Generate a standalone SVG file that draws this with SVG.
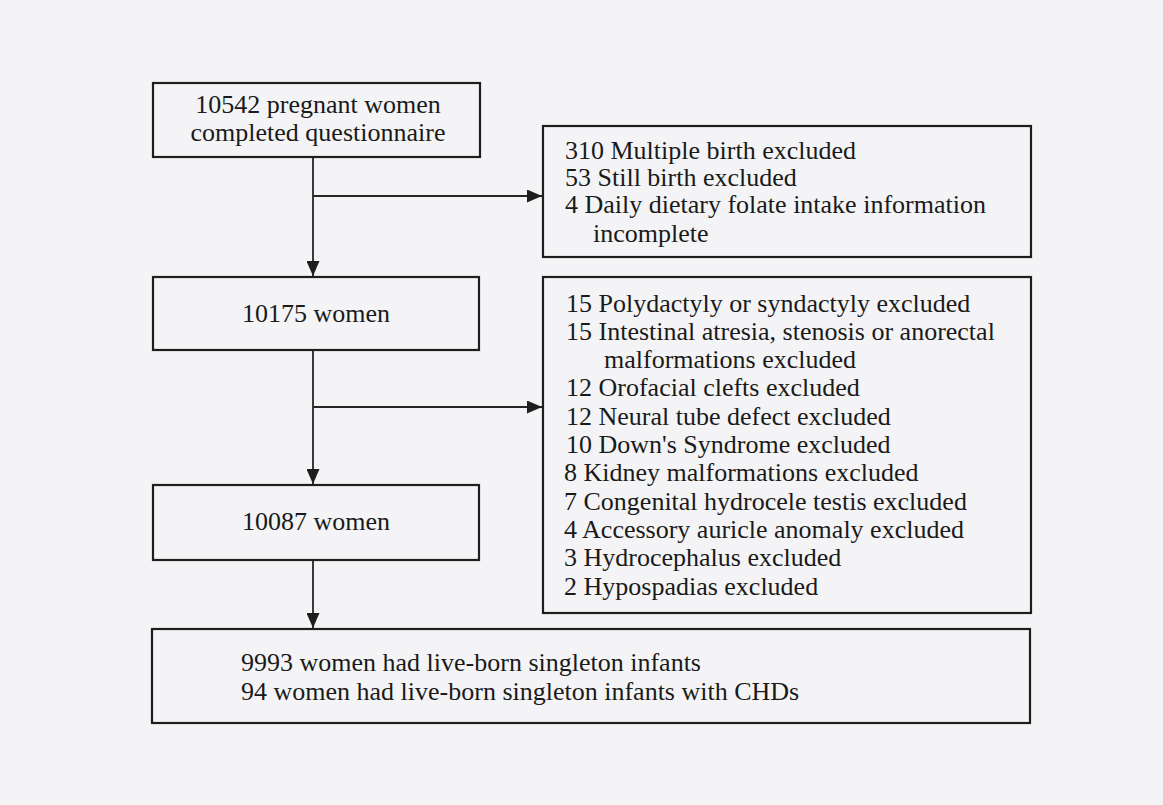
<svg xmlns="http://www.w3.org/2000/svg" width="1163" height="805" viewBox="0 0 1163 805">
<defs>
<style>
.box{fill:none;stroke:#1e1e1e;stroke-width:2.2}
.ln{fill:none;stroke:#262626;stroke-width:1.8}
text{font-family:"Liberation Serif","Times New Roman",serif;font-size:26px;fill:#1a1a1a}
.c{text-anchor:middle}
</style>
<marker id="ah" viewBox="0 0 15 13" refX="15" refY="6.5" markerWidth="15" markerHeight="13" markerUnits="userSpaceOnUse" orient="auto">
<path d="M0,0 L15,6.5 L0,13 Z" fill="#1e1e1e"/>
</marker>
</defs>
<rect x="0" y="0" width="1163" height="805" fill="#f4f4f6"/>
<g id="connectors">
<line class="ln" x1="313" y1="157" x2="313" y2="276" marker-end="url(#ah)"/>
<line class="ln" x1="313" y1="196" x2="542" y2="196" marker-end="url(#ah)"/>
<line class="ln" x1="313" y1="350" x2="313" y2="484" marker-end="url(#ah)"/>
<line class="ln" x1="313" y1="407" x2="542" y2="407" marker-end="url(#ah)"/>
<line class="ln" x1="313" y1="560" x2="313" y2="628" marker-end="url(#ah)"/>
</g>
<g id="n1">
<rect class="box" x="153" y="83" width="327" height="74"/>
<text class="c" x="318" y="113">10542 pregnant women</text>
<text class="c" x="318" y="141">completed questionnaire</text>
</g>
<g id="ex1">
<rect class="box" x="543" y="126" width="488" height="131"/>
<text x="565" y="159">310 Multiple birth excluded</text>
<text x="565" y="186">53 Still birth excluded</text>
<text x="565" y="213">4 Daily dietary folate intake information</text>
<text x="593" y="242">incomplete</text>
</g>
<g id="n2">
<rect class="box" x="153" y="277" width="326" height="73"/>
<text class="c" x="316" y="322">10175 women</text>
</g>
<g id="ex2">
<rect class="box" x="543" y="277" width="488" height="336"/>
<text x="566" y="311.5">15 Polydactyly or syndactyly excluded</text>
<text x="566" y="339.8">15 Intestinal atresia, stenosis or anorectal</text>
<text x="604" y="368.1">malformations excluded</text>
<text x="566" y="396.4">12 Orofacial clefts excluded</text>
<text x="566" y="424.7">12 Neural tube defect excluded</text>
<text x="566" y="453">10 Down's Syndrome excluded</text>
<text x="564" y="481.3">8 Kidney malformations excluded</text>
<text x="564" y="509.6">7 Congenital hydrocele testis excluded</text>
<text x="564" y="537.9">4 Accessory auricle anomaly excluded</text>
<text x="564" y="566.2">3 Hydrocephalus excluded</text>
<text x="564" y="594.5">2 Hypospadias excluded</text>
</g>
<g id="n3">
<rect class="box" x="153" y="485" width="326" height="75"/>
<text class="c" x="316" y="530">10087 women</text>
</g>
<g id="n4">
<rect class="box" x="152" y="629" width="878" height="94"/>
<text x="241" y="671">9993 women had live-born singleton infants</text>
<text x="241" y="700">94 women had live-born singleton infants with CHDs</text>
</g>
</svg>
